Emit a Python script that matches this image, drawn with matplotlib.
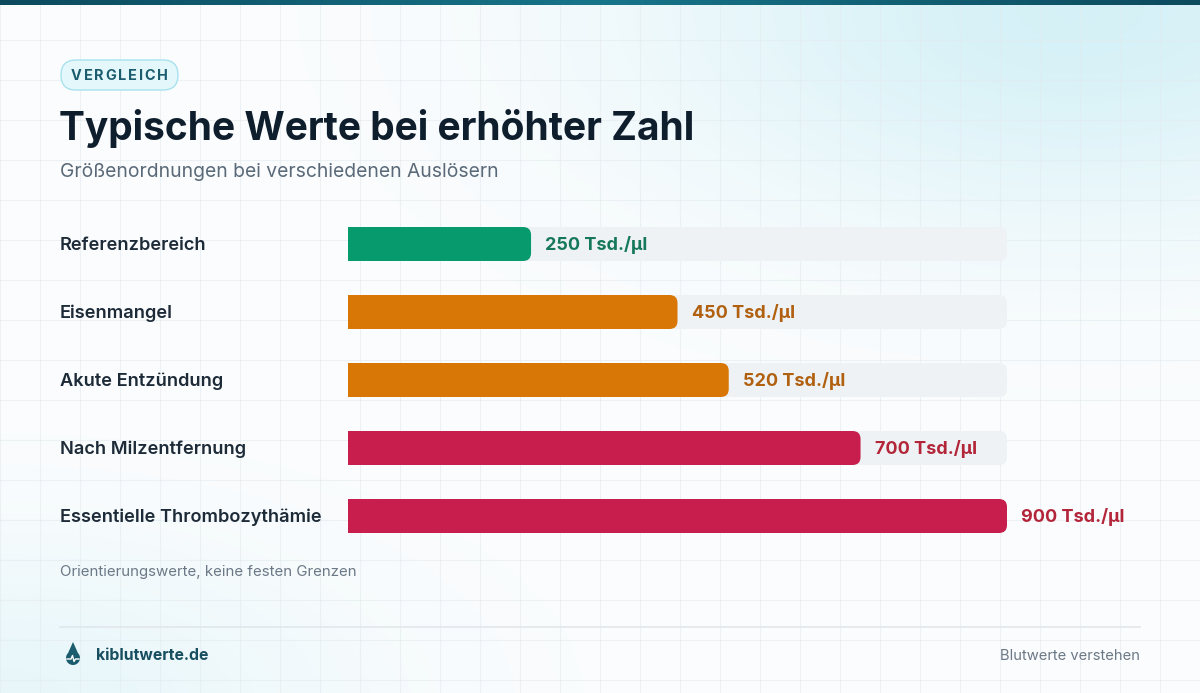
import numpy as np
import matplotlib
matplotlib.use("Agg")
import matplotlib.pyplot as plt
from matplotlib.patches import FancyBboxPatch, Polygon
from matplotlib.textpath import TextPath
from matplotlib.font_manager import FontProperties

# ── Data ──────────────────────────────────────────────────────────────────────
categories = ["Referenzbereich", "Eisenmangel", "Akute Entzündung",
              "Nach Milzentfernung", "Essentielle Thrombozythämie"]
values = [250, 450, 520, 700, 900]
value_labels = ["250 Tsd./µl", "450 Tsd./µl", "520 Tsd./µl",
                "700 Tsd./µl", "900 Tsd./µl"]
bar_colors = ["#079a6c", "#d97706", "#d97706", "#c81e4d", "#c81e4d"]
text_colors = ["#16785a", "#b0600f", "#b0600f", "#b3263a", "#b3263a"]
x_max = 900

title = "Typische Werte bei erhöhter Zahl"
subtitle = "Größenordnungen bei verschiedenen Auslösern"
badge = "VERGLEICH"
footnote = "Orientierungswerte, keine festen Grenzen"
brand = "kiblutwerte.de"
tagline = "Blutwerte verstehen"

# ── Style ─────────────────────────────────────────────────────────────────────
plt.rcParams["font.family"] = ["Inter", "DejaVu Sans"]
W, H = 1200, 693
TRACK = "#eef2f5"

fig = plt.figure(figsize=(W / 100, H / 100), dpi=100)

# background axes in pixel coordinates
bg = fig.add_axes([0, 0, 1, 1])
bg.set_xlim(0, W)
bg.set_ylim(H, 0)
bg.axis("off")

yy, xx = np.mgrid[0:H, 0:W]
glow1 = np.exp(-(((xx - 1080) / 420) ** 2 + ((yy - 10) / 210) ** 2))
glow2 = np.exp(-(((xx - 0) / 350) ** 2 + ((yy - 700) / 160) ** 2)) * 0.5
g = np.clip(glow1 + glow2, 0, 1) * 0.9
base = np.array([0.985, 0.99, 0.995])
tint = np.array([0.82, 0.94, 0.965])
img = base[None, None, :] * (1 - g[..., None]) + tint[None, None, :] * g[..., None]
bg.imshow(img, extent=[0, W, H, 0], aspect="auto", zorder=0)

for gx in range(0, W + 1, 40):
    bg.axvline(gx, color="#e3ebf0", lw=0.8, alpha=0.6, zorder=1)
for gy in range(0, H + 1, 40):
    bg.axhline(gy, color="#e3ebf0", lw=0.8, alpha=0.6, zorder=1)

# top strip
strip = np.linspace(0, 1, 300)[None, :]
bg.imshow(strip, extent=[0, W, 5, 0], aspect="auto", zorder=2,
          cmap=matplotlib.colors.LinearSegmentedColormap.from_list(
              "s", ["#0d4a5e", "#17758a", "#0d4a5e"]))

# badge (letter-spaced)
bg.add_patch(FancyBboxPatch((61, 60), 117, 30,
                            boxstyle="round,pad=0,rounding_size=15",
                            fc="#e4f7fb", ec="#a8e2ee", lw=1.0, zorder=3))
badge_pt = 10.4
fp = FontProperties(family=["Inter", "DejaVu Sans"], weight="bold", size=badge_pt)
tracking = 1.0
bar_w = TextPath((0, 0), "|", prop=fp).get_extents().width
adv = [(TextPath((0, 0), ch + "|", prop=fp).get_extents().width - bar_w) * 100 / 72
       for ch in badge]
total = sum(adv) + tracking * (len(badge) - 1)
x0 = 119.5 - total / 2
for ch, a in zip(badge, adv):
    bg.text(x0, 75.5, ch, fontproperties=fp, color="#1b5d6e",
            ha="left", va="center", zorder=4)
    x0 += a + tracking

bg.text(59, 128, title, fontsize=28, fontweight="bold", color="#0f1e2d",
        ha="left", va="center", zorder=4)
bg.text(60, 172, subtitle, fontsize=13.9, color="#5a6978",
        ha="left", va="center", zorder=4)

bg.text(60, 572, footnote, fontsize=10.8, color="#6b7886",
        ha="left", va="center", zorder=4)
bg.plot([60, 1140], [627, 627], color="#e1e7ec", lw=1.2, zorder=3)

# drop icon
cx, cy, r = 73, 658, 7
theta = np.linspace(-0.25 * np.pi, 1.25 * np.pi, 50)
circ = np.column_stack([cx + r * np.cos(theta), cy + r * np.sin(theta)])
drop = np.vstack([[cx, cy - 16], circ])
bg.add_patch(Polygon(drop, closed=True, fc="#1b5d6e", ec="none", zorder=4))
bg.plot([cx - 6, cx - 2, cx - 0.5, cx + 1, cx + 2.5, cx + 6],
        [cy + 1, cy + 1, cy - 2.5, cy + 3.5, cy + 1, cy + 1],
        color="white", lw=1.0, zorder=5)
bg.text(96, 655, brand, fontsize=11.4, fontweight="bold", color="#174f60",
        ha="left", va="center", zorder=4)
bg.text(1140, 656, tagline, fontsize=10.6, color="#6b7886",
        ha="right", va="center", zorder=4)

# ── Bars ──────────────────────────────────────────────────────────────────────
left_px, right_px = 348, 1007
top_px, row_px = 244 - 34, 68
n = len(categories)
ax = fig.add_axes([left_px / W, 1 - (top_px + n * row_px) / H,
                   (right_px - left_px) / W, n * row_px / H])
ax.set_xlim(0, x_max)
ax.set_ylim(n - 0.5, -0.5)
ax.axis("off")
ax.patch.set_alpha(0)

bar_h = 34 / row_px
px_x = x_max / (right_px - left_px)   # data units per pixel in x
px_y = 1 / row_px
rad = 8 * px_x
aspect = px_y / px_x

ys = np.arange(n)
for i, (v, c) in enumerate(zip(values, bar_colors)):
    ax.add_patch(FancyBboxPatch((0, i - bar_h / 2), x_max, bar_h,
                                boxstyle=f"round,pad=0,rounding_size={rad}",
                                mutation_aspect=aspect, fc=TRACK, ec="none",
                                zorder=1, clip_on=False))
    ax.add_patch(FancyBboxPatch((0, i - bar_h / 2), v, bar_h,
                                boxstyle=f"round,pad=0,rounding_size={rad}",
                                mutation_aspect=aspect, fc=c, ec="none",
                                zorder=2, clip_on=False))
ax.barh(ys, [v - rad for v in values], height=bar_h, color=bar_colors,
        zorder=3, linewidth=0)

for i, (v, lab, tc) in enumerate(zip(values, value_labels, text_colors)):
    ax.text(v + 14 * px_x, i + 1.5 * px_y, lab, fontsize=13, fontweight="bold",
            color=tc, ha="left", va="center", zorder=4, clip_on=False)
    ax.text(-288 * px_x, i + 1.5 * px_y, categories[i], fontsize=13.1,
            fontweight="semibold", color="#1d2a38", ha="left", va="center",
            zorder=4, clip_on=False)

fig.savefig("out.png", dpi=100)
